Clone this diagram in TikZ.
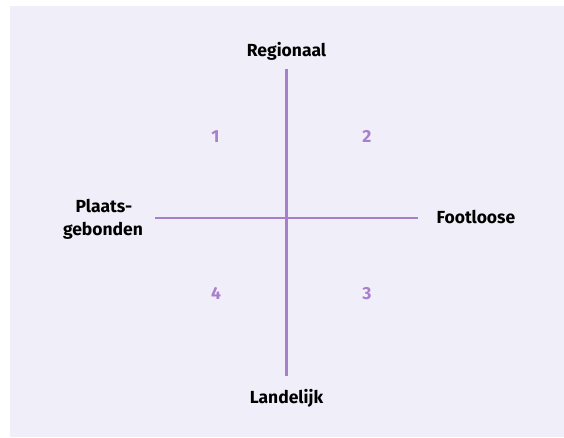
\documentclass[tikz,border=0pt]{standalone}
\usepackage{fontspec}
\setmainfont{Fira Sans}[UprightFont={* Bold}]
\definecolor{bgc}{HTML}{F0EEF8}
\definecolor{axc}{HTML}{A87FCB}
\begin{document}
\begin{tikzpicture}[x=1pt,y=-1pt,
  axis/.style={draw=axc,line width=2.6pt},
  lab/.style={anchor=base,inner sep=0pt,font=\fontsize{17.5}{20}\selectfont,text=black},
  num/.style={anchor=base,inner sep=0pt,font=\fontsize{17.5}{20}\selectfont,text=axc}]
\useasboundingbox (0,0) rectangle (564,437);
\fill[bgc] (10,6) rectangle (564,437);
\coordinate (top) at (286.5,69);
\coordinate (bot) at (286.5,376);
\coordinate (lft) at (155,218);
\coordinate (rgt) at (418,218);
\draw[axis] (top) -- (bot);
\draw[axis] (lft) -- (rgt);
\node[lab] (reg) at (286.5,56) {Regionaal};
\node[lab] (lan) at (286.5,403) {Landelijk};
\node[lab] (foot) at (476,223) {Footloose};
\node[lab] (pl1) at (104,212) {Plaats-};
\node[lab] (pl2) at (103,235) {gebonden};
\node[num] (n1) at (215.5,142) {1};
\node[num] (n2) at (367,142) {2};
\node[num] (n3) at (367,299) {3};
\node[num] (n4) at (216,299) {4};
\end{tikzpicture}
\end{document}
